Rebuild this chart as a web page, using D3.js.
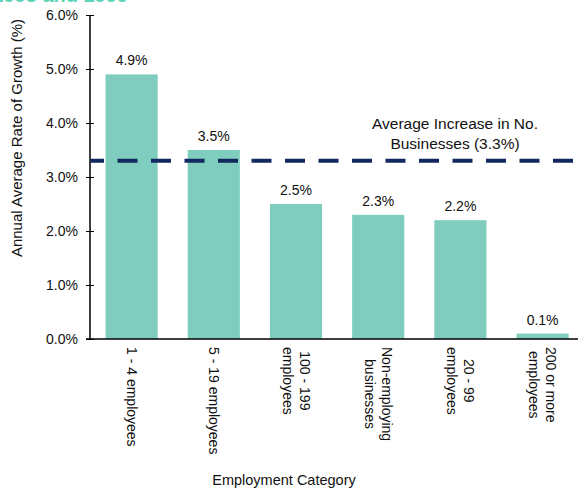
<!DOCTYPE html>
<html>
<head>
<meta charset="utf-8">
<script src="https://cdn.jsdelivr.net/npm/d3@7"></script>
<style>
  html, body { margin: 0; padding: 0; background: #fff; }
  svg { display: block; font-family: "Liberation Sans", Arial, sans-serif; }
</style>
</head>
<body>
<svg id="chart" width="578" height="491"></svg>
<script>
// Employment size categories (each entry: label lines) and growth rates (%)
const categories = [
  ["1 - 4 employees"],
  ["5 - 19 employees"],
  ["100 - 199", "employees"],
  ["Non-employing", "businesses"],
  ["20 - 99", "employees"],
  ["200 or more", "employees"]
];
const growthRates = [4.9, 3.5, 2.5, 2.3, 2.2, 0.1];
const averageIncrease = 3.3;
const yTicks = [0, 1, 2, 3, 4, 5, 6];

const svg = d3.select("#chart");
const teal = "#7fcdbf";
const navy = "#13285e";
const axisX = 90;

const x = d3.scaleBand()
  .domain(d3.range(categories.length))
  .range([90.5, 90.5 + 6 * 82.2])
  .paddingInner(0.366)
  .paddingOuter(0.183);

const y = d3.scaleLinear().domain([0, 6]).range([339, 15]);

// Title (runs off the top edge)
svg.append("text")
  .attr("x", 128).attr("y", 2)
  .attr("text-anchor", "end")
  .attr("font-size", 20).attr("font-weight", "bold")
  .attr("fill", "#5fd3b8")
  .text("Growth in Businesses by Employment Size, 1993 and 1999");

// Bars
svg.append("g").selectAll("rect")
  .data(growthRates)
  .join("rect")
  .attr("x", (d, i) => x(i))
  .attr("width", x.bandwidth())
  .attr("y", d => y(d))
  .attr("height", d => y(0) - y(d))
  .attr("fill", teal);

// Value labels
svg.append("g").selectAll("text")
  .data(growthRates)
  .join("text")
  .attr("x", (d, i) => x(i) + x.bandwidth() / 2)
  .attr("y", d => y(d) - 9)
  .attr("text-anchor", "middle")
  .attr("font-size", 14)
  .attr("fill", "#111")
  .text(d => d.toFixed(1) + "%");

// Y axis with ticks crossing the axis line
const yAxis = svg.append("g").attr("transform", `translate(${axisX},0)`)
  .call(d3.axisLeft(y).tickValues(yTicks).tickSize(0).tickPadding(12)
    .tickFormat(d => d.toFixed(1) + "%"));
yAxis.select(".domain").remove();
yAxis.selectAll("text").attr("font-size", 14).attr("fill", "#111")
  .attr("font-family", "Liberation Sans, Arial, sans-serif");
yAxis.selectAll(".tick").append("line")
  .attr("x1", -4).attr("x2", 4).attr("stroke", "#000").attr("stroke-width", 1);
yAxis.append("line")
  .attr("x1", 0).attr("x2", 0).attr("y1", y(6)).attr("y2", y(0))
  .attr("stroke", "#000").attr("stroke-width", 1.5);

// X axis baseline
svg.append("line")
  .attr("x1", 86).attr("x2", 578).attr("y1", y(0)).attr("y2", y(0))
  .attr("stroke", "#000").attr("stroke-width", 1.5);

// Category labels, rotated to read downward
const catG = svg.append("g").selectAll("g")
  .data(categories)
  .join("g")
  .attr("transform", (d, i) => `translate(${x(i) + x.bandwidth() / 2},347) rotate(90)`);
catG.each(function(lines) {
  const g = d3.select(this);
  const n = lines.length;
  const texts = lines.map((line, k) => g.append("text")
    .attr("y", (k - (n - 1) / 2) * 17)
    .attr("dy", "0.35em")
    .attr("text-anchor", "middle")
    .attr("font-size", 14)
    .attr("fill", "#111")
    .text(line));
  // each block starts at the axis, lines centred on the longest one
  const maxW = d3.max(texts, t => t.node().getComputedTextLength());
  texts.forEach(t => t.attr("x", maxW / 2));
});

// Average increase reference line
svg.append("line")
  .attr("x1", axisX).attr("x2", 578)
  .attr("y1", y(averageIncrease)).attr("y2", y(averageIncrease))
  .attr("stroke", navy).attr("stroke-width", 4)
  .attr("stroke-dasharray", "20,13.5")
  .attr("stroke-dashoffset", 6);

// Reference line annotation
const note = svg.append("text")
  .attr("text-anchor", "middle")
  .attr("font-size", 15.5).attr("fill", "#111");
note.append("tspan").attr("x", 455).attr("y", 129).text("Average Increase in No.");
note.append("tspan").attr("x", 455).attr("y", 149).text("Businesses (3.3%)");

// Axis titles
svg.append("text")
  .attr("transform", `translate(22,138) rotate(-90)`)
  .attr("text-anchor", "middle")
  .attr("font-size", 15).attr("fill", "#111")
  .text("Annual Average Rate of Growth (%)");

svg.append("text")
  .attr("x", 284).attr("y", 485)
  .attr("text-anchor", "middle")
  .attr("font-size", 14.5).attr("fill", "#111")
  .text("Employment Category");
</script>
</body>
</html>
